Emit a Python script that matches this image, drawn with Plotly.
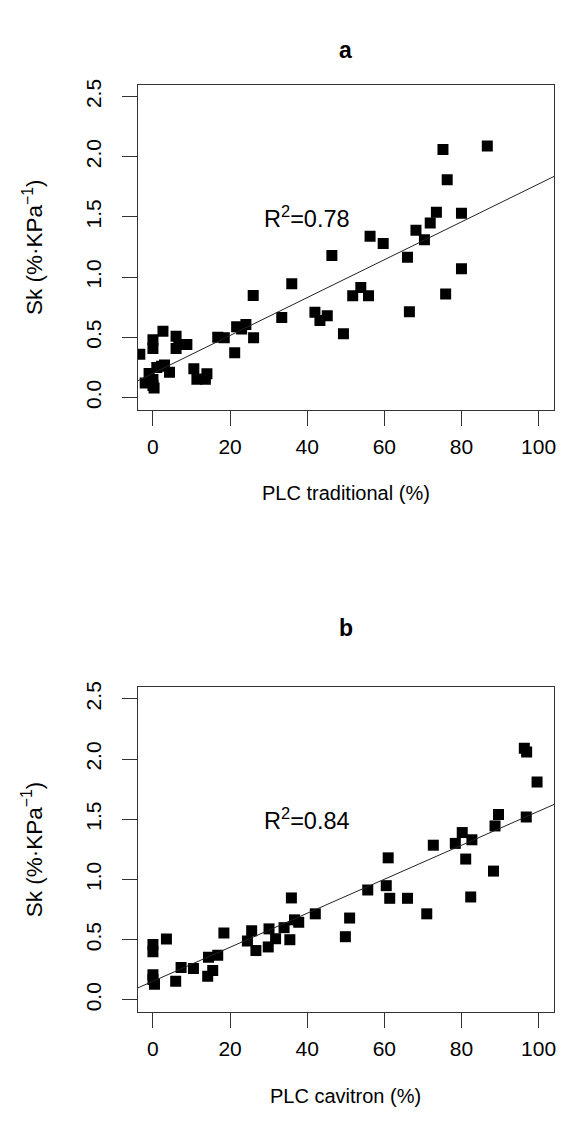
import plotly.graph_objects as go

# Panel a: PLC traditional (%) vs Sk
a_plc = [86.7, 75.2, 76.3, 73.5, 80.0, 71.9, 68.2, 70.4, 56.3, 59.7,
         46.4, 66.0, 80.0, 53.9, 51.8, 55.9, 75.9, 66.5, 49.4, 36.0,
         26.0, 33.4, 42.0, 45.2, 43.3, 21.7, 24.1, 23.0, 26.1, 21.2,
         16.8, 18.5, 10.6, 11.4, 14.0, 13.6, 2.6, 6.0, 6.7, 8.8,
         6.0, 0.0, 0.0, -3.4, 4.3, 2.2, 0.0, -1.0, 0.0, 0.3,
         -2.0, 1.0, 3.0]
a_sk = [2.09, 2.06, 1.81, 1.54, 1.53, 1.45, 1.39, 1.31, 1.34, 1.28,
        1.18, 1.165, 1.07, 0.914, 0.845, 0.845, 0.86, 0.713, 0.529, 0.945,
        0.848, 0.664, 0.708, 0.68, 0.64, 0.587, 0.606, 0.57, 0.496, 0.372,
        0.50, 0.496, 0.24, 0.151, 0.198, 0.151, 0.55, 0.51, 0.44, 0.44,
        0.407, 0.48, 0.407, 0.36, 0.21, 0.26, 0.15, 0.20, 0.10, 0.08,
        0.12, 0.25, 0.27]

# Panel b: PLC cavitron (%) vs Sk
b_plc = [96.3, 96.9, 99.6, 89.6, 96.8, 88.7, 80.2, 78.4, 82.7, 72.7,
         81.1, 61.0, 88.3, 55.7, 60.5, 61.4, 66.0, 82.4, 71.0, 51.0,
         49.9, 35.9, 42.1, 36.7, 37.8, 34.0, 35.5, 30.1, 31.8, 29.9,
         25.6, 24.5, 26.7, 18.4, 16.8, 14.4, 15.5, 14.2, 10.5, 7.3,
         5.9, 3.5, 0.0, 0.0, 0.0, 0.0, 0.4]
b_sk = [2.09, 2.06, 1.81, 1.54, 1.52, 1.445, 1.39, 1.30, 1.33, 1.285,
        1.17, 1.18, 1.07, 0.913, 0.949, 0.844, 0.844, 0.855, 0.715, 0.68,
        0.525, 0.847, 0.715, 0.665, 0.645, 0.60, 0.50, 0.59, 0.508, 0.44,
        0.574, 0.49, 0.41, 0.555, 0.37, 0.354, 0.244, 0.197, 0.26, 0.27,
        0.155, 0.505, 0.46, 0.40, 0.21, 0.17, 0.13]

# fitted lines (intercept, slope) and R2 labels
fit_a = (0.201, 0.01573)
fit_b = (0.155, 0.01412)
r2_a = "0.78"
r2_b = "0.84"

x_ticks = [0, 20, 40, 60, 80, 100]
y_ticks = [0.0, 0.5, 1.0, 1.5, 2.0, 2.5]
y_ticklabels = ["0.0", "0.5", "1.0", "1.5", "2.0", "2.5"]
x_range = [-4, 104]
y_range = [-0.1, 2.6]

FONT = "Liberation Sans, Arial, Helvetica, sans-serif"
FS_TICK = 21
FS_XT = 20
FS_YT = 22.5
FS_R2 = 23.5
LINEC = "#333333"

fig = go.Figure()

marker = dict(symbol="square", size=11, color="black", line=dict(width=0))

fig.add_trace(go.Scatter(x=a_plc, y=a_sk, mode="markers", marker=marker,
                         xaxis="x", yaxis="y", showlegend=False, cliponaxis=True))
fig.add_trace(go.Scatter(x=b_plc, y=b_sk, mode="markers", marker=marker,
                         xaxis="x2", yaxis="y2", showlegend=False, cliponaxis=True))

for (ic, sl), xa, ya in [(fit_a, "x", "y"), (fit_b, "x2", "y2")]:
    xs = list(x_range)
    ys = [ic + sl * v for v in xs]
    fig.add_trace(go.Scatter(x=xs, y=ys, mode="lines",
                             line=dict(color="#222222", width=1),
                             xaxis=xa, yaxis=ya, showlegend=False, hoverinfo="skip"))

def xaxis(anchor):
    return dict(range=x_range, tickvals=x_ticks, ticks="outside", ticklen=15,
                tickcolor=LINEC, tickwidth=1, showline=True, linecolor=LINEC,
                linewidth=1, mirror=True, showgrid=False, zeroline=False,
                domain=[138 / 564, 556 / 564], anchor=anchor,
                tickfont=dict(family=FONT, size=FS_TICK, color="black"),
                ticklabelstandoff=3)

def yaxis(anchor, dom):
    return dict(range=y_range, tickvals=y_ticks, ticktext=y_ticklabels,
                ticks="outside", ticklen=15, tickcolor=LINEC, tickwidth=1,
                showline=True, linecolor=LINEC, linewidth=1, mirror=True,
                showgrid=False, zeroline=False, domain=dom, anchor=anchor,
                tickangle=-90,
                tickfont=dict(family=FONT, size=FS_TICK, color="black"),
                ticklabelstandoff=12)

H = 1135.0
fig.update_layout(
    width=564, height=1135,
    margin=dict(l=0, r=0, t=0, b=0),
    paper_bgcolor="white", plot_bgcolor="white",
    xaxis=xaxis("y"),
    yaxis=yaxis("x", [(H - 405.7) / H, (H - 79) / H]),
    xaxis2=xaxis("y2"),
    yaxis2=yaxis("x2", [(H - 1011.3) / H, (H - 684.5) / H]),
)

ann = []
def txt(text, x, y, size, bold=False, angle=0, xref="paper", yref="paper"):
    if bold:
        text = "<b>" + text + "</b>"
    ann.append(dict(text=text, x=x, y=y, xref=xref, yref=yref, showarrow=False,
                    xanchor="center", yanchor="middle", textangle=angle,
                    font=dict(family=FONT, size=size, color="black")))

cx = 347 / 564
txt("a", cx, (H - 44) / H, 23, bold=True)
txt("b", cx, (H - 625) / H, 23, bold=True)
txt("PLC traditional (%)", cx, (H - 490) / H, FS_XT)
txt("PLC cavitron (%)", cx, (H - 1096) / H, FS_XT)
txt("Sk (%·KPa<sup>−1</sup>)", 33 / 564, (H - 242.4) / H, FS_YT, angle=-90)
txt("Sk (%·KPa<sup>−1</sup>)", 33 / 564, (H - 847.9) / H, FS_YT, angle=-90)
txt("R<sup>2</sup>=" + r2_a, 40, 1.5, FS_R2, xref="x", yref="y")
txt("R<sup>2</sup>=" + r2_b, 40, 1.5, FS_R2, xref="x2", yref="y2")
fig.update_layout(annotations=ann)

fig.write_html("out.html")
